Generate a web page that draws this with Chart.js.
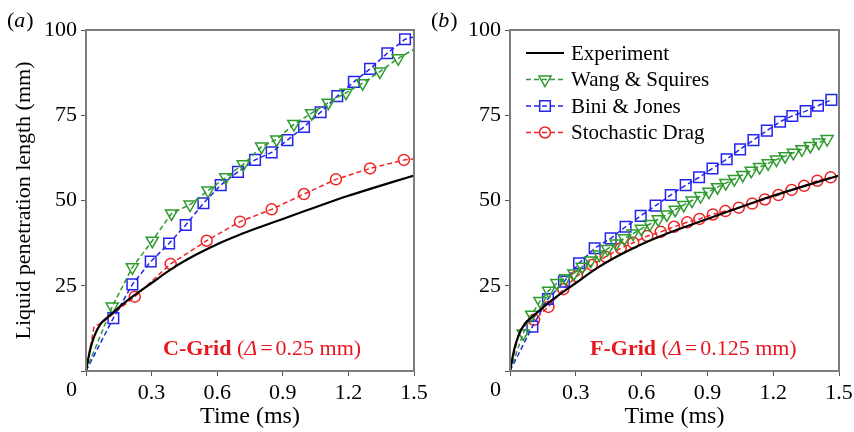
<!DOCTYPE html>
<html>
<head>
<meta charset="utf-8">
<script src="https://cdn.jsdelivr.net/npm/chart.js@4.4.1/dist/chart.umd.min.js"></script>
<style>
  html, body { margin: 0; padding: 0; background: #fff; }
  #wrap { position: relative; width: 854px; height: 432px; overflow: hidden; }
  .panel { position: absolute; top: 0; width: 427px; height: 432px; }
  #pa { left: 0; }
  #pb { left: 427px; }
</style>
</head>
<body>
<div id="wrap">
  <div class="panel" id="pa"><canvas id="ca" width="427" height="432"></canvas></div>
  <div class="panel" id="pb"><canvas id="cb" width="427" height="432"></canvas></div>
</div>
<script>
// ---- axes ----
const xTickValues = [0, 0.3, 0.6, 0.9, 1.2, 1.5];
const xTickLabels = ['0', '0.3', '0.6', '0.9', '1.2', '1.5'];
const yTickValues = [0, 25, 50, 75, 100];
const yTickLabels = ['0', '25', '50', '75', '100'];

// ---- measured penetration (same in both panels) ----
const expTime   = [0, 0.02, 0.04, 0.067, 0.1, 0.15, 0.2, 0.3, 0.4, 0.5, 0.6, 0.7, 0.8, 0.9, 1.0, 1.1, 1.2, 1.3, 1.4, 1.5];
const expLength = [0, 6.5, 10.5, 13.8, 15.8, 18.6, 21.2, 25.8, 30.3, 34.0, 37.2, 39.9, 42.3, 44.6, 46.9, 49.2, 51.4, 53.4, 55.4, 57.3];

// ---- (a) C-Grid ----
const wangA_t = [0, 0.12, 0.212, 0.303, 0.391, 0.476, 0.558, 0.639, 0.719, 0.803, 0.872, 0.951, 1.032, 1.108, 1.189, 1.265, 1.344, 1.428, 1.51];
const wangA_v = [0, 18.9, 30.4, 38.2, 46.2, 48.8, 52.9, 56.8, 60.6, 65.8, 67.9, 72.4, 75.6, 78.7, 81.6, 84.4, 87.8, 91.7, 94.7];
const biniA_t = [0, 0.125, 0.212, 0.296, 0.38, 0.456, 0.537, 0.616, 0.695, 0.773, 0.849, 0.921, 0.997, 1.073, 1.149, 1.225, 1.299, 1.378, 1.459, 1.52];
const biniA_v = [0, 15.5, 25.4, 32.1, 37.4, 42.8, 49.2, 54.5, 58.4, 61.9, 64.1, 67.7, 71.6, 75.9, 80.6, 84.8, 88.6, 93.2, 97.3, 98.3];
const stochA_t = [0, 0.037, 0.075, 0.223, 0.387, 0.552, 0.704, 0.849, 0.997, 1.143, 1.299, 1.454, 1.52];
const stochA_v = [0, 13, 14.2, 21.8, 31.4, 38.2, 43.8, 47.4, 51.9, 56.2, 59.4, 61.9, 62.4];

// ---- (b) F-Grid ----
const wangB_t = [0, 0.06, 0.099, 0.137, 0.176, 0.214, 0.253, 0.291, 0.330, 0.368, 0.407, 0.445, 0.484, 0.522, 0.561, 0.599, 0.638, 0.676, 0.715, 0.753, 0.792, 0.830, 0.869, 0.907, 0.946, 0.984, 1.023, 1.061, 1.100, 1.138, 1.177, 1.215, 1.254, 1.292, 1.331, 1.369, 1.408, 1.446];
const wangB_v = [0, 11, 16.5, 20.5, 23.5, 25.8, 27.2, 28.6, 30.6, 32.4, 34.2, 35.8, 37.4, 38.9, 40.3, 41.7, 43.1, 44.5, 45.9, 47.3, 48.7, 50, 51.3, 52.6, 53.9, 55.1, 56.3, 57.5, 58.7, 59.8, 60.9, 62, 63, 64, 65, 66, 67, 68];
const biniB_t = [0, 0.102, 0.173, 0.246, 0.315, 0.386, 0.459, 0.527, 0.596, 0.664, 0.733, 0.801, 0.862, 0.923, 0.988, 1.049, 1.11, 1.171, 1.231, 1.287, 1.348, 1.404, 1.465];
const biniB_v = [0, 13, 21.1, 26.2, 31.6, 36, 38.9, 42.3, 45.5, 48.5, 51.6, 54.5, 56.8, 59.4, 62.1, 65, 67.7, 70.5, 73.1, 74.8, 76.2, 77.8, 79.5];
const stochB_t = [0, 0.044, 0.082, 0.11, 0.175, 0.243, 0.305, 0.373, 0.436, 0.505, 0.562, 0.626, 0.687, 0.748, 0.808, 0.864, 0.925, 0.982, 1.043, 1.104, 1.162, 1.224, 1.284, 1.341, 1.401, 1.462];
const stochB_v = [0, 12, 14, 15, 18.8, 24, 27.8, 31.1, 33.5, 36, 37.6, 39.6, 40.8, 42.3, 43.6, 44.6, 45.9, 46.9, 47.9, 49.1, 50.3, 51.6, 53.1, 54.3, 55.8, 56.8];

const seriesNames = ['Experiment', 'Wang & Squires', 'Bini & Jones', 'Stochastic Drag'];

const SERIF = '"Liberation Serif", "Times New Roman", serif';
const TICK_PX = 22;
const GREEN = '#2f9a2f', BLUE = '#2424f0', RED = '#f02424', TEXT_RED = '#e8161e';

// points before `lead` and the last `trail` points carry no marker
function pts(t, v, lead, trail) {
  return t.map((x, i) => ({ x: x, y: v[i], mark: i >= lead && i < t.length - trail }));
}

function modelSet(label, data, color, style, size, rot) {
  return {
    label, data,
    borderColor: color, borderWidth: 1.5, borderDash: [5, 3],
    tension: 0, fill: false,
    pointStyle: style, pointRotation: rot || 0,
    pointRadius: c => (c.raw && c.raw.mark ? size : 0),
    pointHoverRadius: 0,
    pointBorderColor: color, pointBorderWidth: 1.5,
    pointBackgroundColor: 'rgba(0,0,0,0)',
    markerSize: size
  };
}

function expSet() {
  return {
    label: seriesNames[0],
    data: pts(expTime, expLength, 999, 0),
    borderColor: '#000', borderWidth: 2.2,
    cubicInterpolationMode: 'monotone', fill: false,
    pointRadius: 0, pointHoverRadius: 0
  };
}

function drawMarker(ctx, style, x, y, r, rot) {
  ctx.beginPath();
  if (style === 'circle') {
    ctx.arc(x, y, r, 0, Math.PI * 2);
  } else if (style === 'rect') {
    const s = r * Math.SQRT1_2;
    ctx.rect(x - s, y - s, 2 * s, 2 * s);
  } else if (style === 'triangle') {
    let a = (rot || 0) * Math.PI / 180;
    ctx.moveTo(x + Math.sin(a) * r, y - Math.cos(a) * r);
    a += 2 * Math.PI / 3;
    ctx.lineTo(x + Math.sin(a) * r, y - Math.cos(a) * r);
    a += 2 * Math.PI / 3;
    ctx.lineTo(x + Math.sin(a) * r, y - Math.cos(a) * r);
    ctx.closePath();
  }
  ctx.stroke();
}

function drawRuns(ctx, x, y, runs) {
  for (const r of runs) {
    ctx.font = r.font;
    ctx.fillText(r.text, x, y);
    x += ctx.measureText(r.text).width + (r.gap || 0);
  }
}

// frame, corner zero, panel letter, grid note and legend
const panelDecor = {
  id: 'panelDecor',
  afterDatasetsDraw(chart, args, o) {
    const ctx = chart.ctx, a = chart.chartArea;
    ctx.save();
    ctx.strokeStyle = '#7c7c7c';
    ctx.lineWidth = 2;
    ctx.strokeRect(a.left, a.top, a.right - a.left, a.bottom - a.top);

    ctx.fillStyle = '#000';
    ctx.font = TICK_PX + 'px ' + SERIF;
    ctx.textAlign = 'right';
    ctx.textBaseline = 'middle';
    ctx.fillText(xTickLabels[0], a.left - 9, a.bottom + 19);

    ctx.textAlign = 'left';
    ctx.textBaseline = 'alphabetic';
    drawRuns(ctx, o.letterX, 27, [
      { text: '(', font: '22px ' + SERIF },
      { text: o.letter, font: 'italic 22px ' + SERIF, gap: 1 },
      { text: ')', font: '22px ' + SERIF }
    ]);

    ctx.fillStyle = TEXT_RED;
    drawRuns(ctx, a.left + o.noteX, a.bottom - 16, [
      { text: o.grid, font: 'bold 22px ' + SERIF },
      { text: ' (', font: '22px ' + SERIF },
      { text: '\u0394', font: 'italic 22px ' + SERIF, gap: 3 },
      { text: '=', font: '22px ' + SERIF, gap: 3 },
      { text: o.delta + ' mm)', font: '22px ' + SERIF }
    ]);

    if (o.legend) {
      ctx.font = '21px ' + SERIF;
      ctx.textBaseline = 'middle';
      const x0 = a.left + 16, x1 = a.left + 54, tx = a.left + 61;
      chart.data.datasets.forEach((ds, i) => {
        const y = a.top + 23 + i * 26.5;
        ctx.strokeStyle = ds.borderColor;
        ctx.lineWidth = ds.borderWidth;
        ctx.setLineDash(ds.borderDash || []);
        ctx.beginPath();
        ctx.moveTo(x0, y);
        ctx.lineTo(x1, y);
        ctx.stroke();
        ctx.setLineDash([]);
        if (ds.markerSize) {
          ctx.lineWidth = ds.pointBorderWidth;
          drawMarker(ctx, ds.pointStyle, (x0 + x1) / 2, y, ds.markerSize, ds.pointRotation);
        }
        ctx.fillStyle = '#000';
        ctx.fillText(ds.label, tx, y + 1);
      });
    }
    ctx.restore();
  }
};

function makeOptions(yWidth, showYTitle, padRight, decor) {
  const tickFont = { family: SERIF, size: TICK_PX };
  return {
    animation: false,
    responsive: false,
    devicePixelRatio: 1,
    layout: { padding: { left: 0, right: padRight, top: 30, bottom: 0 } },
    plugins: { legend: { display: false }, tooltip: { enabled: false }, panelDecor: decor },
    scales: {
      x: {
        type: 'linear', min: 0, max: 1.5,
        afterBuildTicks: s => { s.ticks = xTickValues.map(v => ({ value: v })); },
        ticks: {
          font: tickFont, color: '#000', padding: 4, maxRotation: 0, autoSkip: false,
          callback: (v, i) => (i === 0 ? '' : xTickLabels[i])
        },
        grid: { drawOnChartArea: false, drawTicks: true, tickLength: 5, color: '#555', lineWidth: 1 },
        border: { display: false },
        title: { display: true, text: 'Time (ms)', color: '#000',
                 font: { family: SERIF, size: 24 }, padding: { top: 0, bottom: 1 } },
        afterFit: s => { s.height = 61; s.paddingLeft = 0; s.paddingRight = 0; }
      },
      y: {
        type: 'linear', min: 0, max: 100,
        afterBuildTicks: s => { s.ticks = yTickValues.map(v => ({ value: v })); },
        ticks: {
          font: tickFont, color: '#000', padding: 4,
          callback: (v, i) => (i === 0 ? '' : yTickLabels[i])
        },
        grid: { drawOnChartArea: false, drawTicks: true, tickLength: 5, color: '#555', lineWidth: 1 },
        border: { display: false },
        title: { display: showYTitle, text: 'Liquid penetration length (mm)', color: '#000',
                 font: { family: SERIF, size: 22 }, padding: { top: 11, bottom: 0 } },
        afterFit: s => { s.width = yWidth; s.paddingTop = 0; s.paddingBottom = 0; }
      }
    }
  };
}

new Chart(document.getElementById('ca'), {
  type: 'line',
  data: {
    datasets: [
      expSet(),
      modelSet(seriesNames[1], pts(wangA_t, wangA_v, 1, 1), GREEN, 'triangle', 7, 180),
      modelSet(seriesNames[2], pts(biniA_t, biniA_v, 1, 1), BLUE, 'rect', 7.5),
      modelSet(seriesNames[3], pts(stochA_t, stochA_v, 3, 1), RED, 'circle', 5.5)
    ]
  },
  options: makeOptions(86, true, 13,
    { letter: 'a', letterX: 7, grid: 'C-Grid', delta: '0.25', noteX: 77, legend: false }),
  plugins: [panelDecor]
});

new Chart(document.getElementById('cb'), {
  type: 'line',
  data: {
    datasets: [
      expSet(),
      modelSet(seriesNames[1], pts(wangB_t, wangB_v, 1, 0), GREEN, 'triangle', 7, 180),
      modelSet(seriesNames[2], pts(biniB_t, biniB_v, 1, 0), BLUE, 'rect', 7.5),
      modelSet(seriesNames[3], pts(stochB_t, stochB_v, 3, 0), RED, 'circle', 5.5)
    ]
  },
  options: makeOptions(83, false, 15,
    { letter: 'b', letterX: 4, grid: 'F-Grid', delta: '0.125', noteX: 80, legend: true }),
  plugins: [panelDecor]
});
</script>
</body>
</html>
